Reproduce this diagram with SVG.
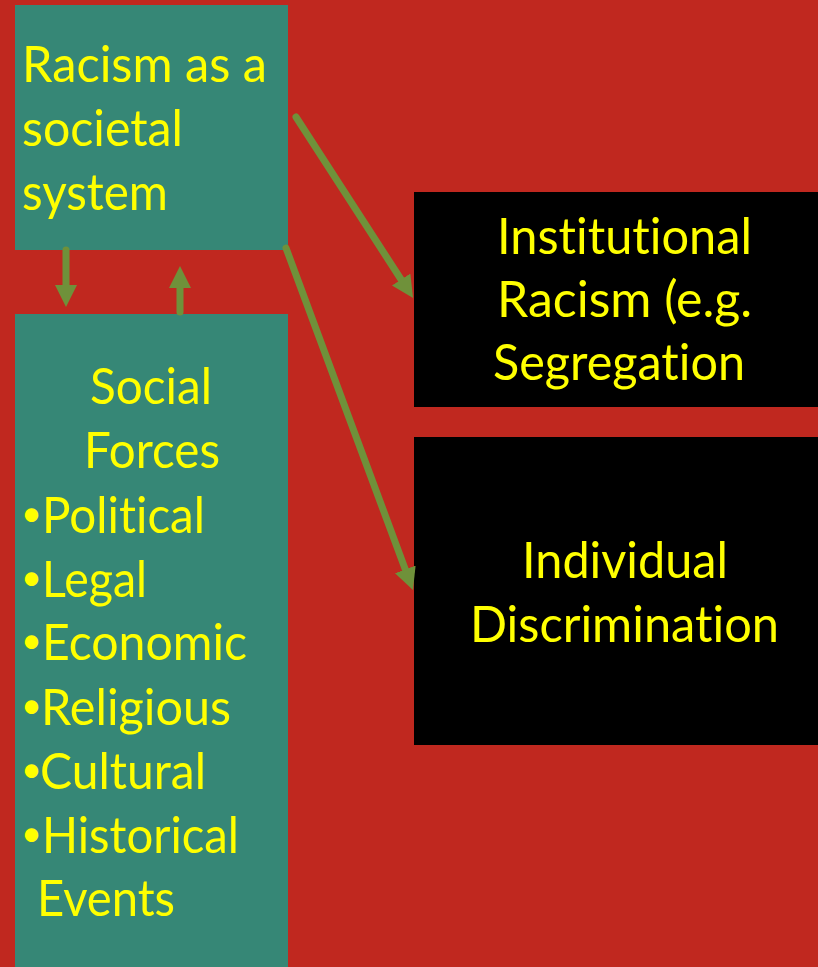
<svg xmlns="http://www.w3.org/2000/svg" width="818" height="967" viewBox="0 0 818 967">
  <defs>
    <style>
      .teal { fill: #368776; }
      .blk { fill: #000000; }
      .t { font-family: Lato, "Open Sans", "Liberation Sans", sans-serif; font-size: 50px; fill: #FFFF00; font-variant-ligatures: none; font-feature-settings: "liga" 0, "clig" 0, "calt" 0, "dlig" 0; }
      .b { font-family: Lato, "Open Sans", "Liberation Sans", sans-serif; font-size: 36px; fill: #FFFF00; }
      .c { text-anchor: middle; }
      .conn { stroke: #6F913A; stroke-width: 7; stroke-linecap: round; fill: none; marker-end: url(#head); }
    </style>
    <marker id="head" markerUnits="userSpaceOnUse" markerWidth="22" markerHeight="22" refX="0" refY="11" orient="auto" viewBox="0 0 22 22">
      <path d="M0,0 L22,11 L0,22 Z" fill="#6F913A"/>
    </marker>
  </defs>
  <rect width="818" height="967" fill="#C0281F"/>

  <g id="racism-system">
    <rect class="teal" x="15" y="5" width="273" height="245"/>
    <text class="t" x="22" y="82" textLength="245" lengthAdjust="spacingAndGlyphs">Racism as a</text>
    <text class="t" x="22" y="146" textLength="161" lengthAdjust="spacingAndGlyphs">societal</text>
    <text class="t" x="22" y="210" textLength="146" lengthAdjust="spacingAndGlyphs">system</text>
  </g>

  <g id="social-forces">
    <rect class="teal" x="15" y="314" width="273" height="653"/>
    <text class="t c" x="151" y="404" textLength="122" lengthAdjust="spacingAndGlyphs">Social</text>
    <text class="t c" x="152" y="468" textLength="136" lengthAdjust="spacingAndGlyphs">Forces</text>
    <text class="b" x="21" y="526">•</text>
    <text class="t" x="42" y="533" textLength="163" lengthAdjust="spacingAndGlyphs">Political</text>
    <text class="b" x="21" y="590">•</text>
    <text class="t" x="42" y="597" textLength="105" lengthAdjust="spacingAndGlyphs">Legal</text>
    <text class="b" x="21" y="653">•</text>
    <text class="t" x="42" y="660" textLength="205" lengthAdjust="spacingAndGlyphs">Economic</text>
    <text class="b" x="21" y="718">•</text>
    <text class="t" x="41" y="725" textLength="190" lengthAdjust="spacingAndGlyphs">Religious</text>
    <text class="b" x="21" y="782">•</text>
    <text class="t" x="40" y="789" textLength="166" lengthAdjust="spacingAndGlyphs">Cultural</text>
    <text class="b" x="21" y="846">•</text>
    <text class="t" x="42" y="853" textLength="197" lengthAdjust="spacingAndGlyphs">Historical</text>
    <text class="t" x="37" y="916" textLength="138" lengthAdjust="spacingAndGlyphs">Events</text>
  </g>

  <g id="institutional-racism">
    <rect class="blk" x="414" y="192" width="404" height="215"/>
    <text class="t c" x="624.5" y="254" textLength="255" lengthAdjust="spacingAndGlyphs">Institutional</text>
    <text class="t c" x="624.5" y="317" textLength="255" lengthAdjust="spacingAndGlyphs">Racism (e.g.</text>
    <text class="t c" x="619" y="380" textLength="252" lengthAdjust="spacingAndGlyphs">Segregation</text>
  </g>

  <g id="individual-discrimination">
    <rect class="blk" x="414" y="437" width="404" height="308"/>
    <text class="t c" x="625" y="578" textLength="206" lengthAdjust="spacingAndGlyphs">Individual</text>
    <text class="t c" x="624.5" y="642" textLength="309" lengthAdjust="spacingAndGlyphs">Discrimination</text>
  </g>

  <g id="connectors">
    <line class="conn" x1="66" y1="250" x2="66" y2="285"/>
    <line class="conn" x1="180" y1="312" x2="180" y2="288"/>
    <line class="conn" x1="296" y1="117" x2="401.1" y2="279.5"/>
    <line class="conn" x1="286" y1="248" x2="405.3" y2="569.4"/>
  </g>
</svg>
